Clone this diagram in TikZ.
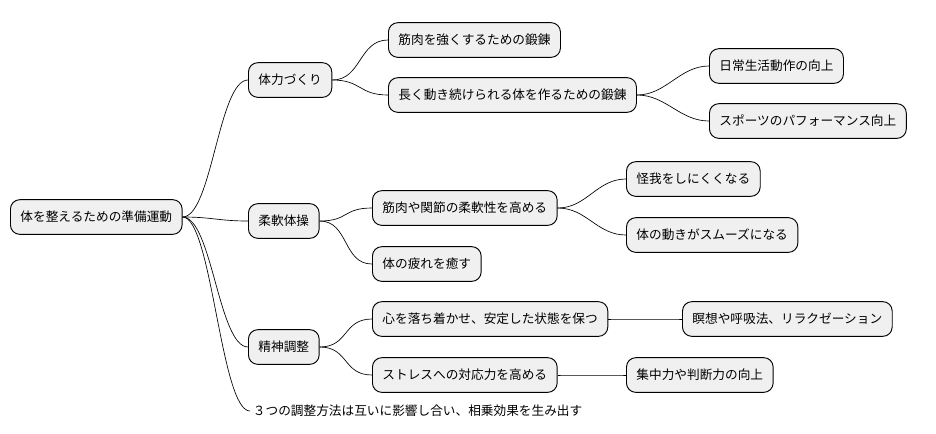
\documentclass[tikz,border=0pt]{standalone}
\usepackage{fontspec}
\setmainfont{Noto Sans CJK JP}
\usetikzlibrary{positioning}
\tikzset{
  topic/.style={rectangle, rounded corners=7pt, draw=black, line width=0.7pt, fill=gray!12,
    minimum height=26pt, inner xsep=7.5pt, font=\fontsize{9.5pt}{11pt}\selectfont, anchor=west},
  branch/.style={line width=0.5pt},
}
\newcommand{\link}[2]{\draw[branch] (#1.east) .. controls +(22pt,0) and +(-22pt,0) .. (#2.west);}
\begin{document}
\begin{tikzpicture}[x=0.75pt, y=-0.75pt]
\useasboundingbox (0,0) rectangle (936,433);
\node (root) [topic] at (10,217) {体を整えるための準備運動};
\node (fit) [topic] at (248,80) {体力づくり};
\node (fitA) [topic] at (388,40) {筋肉を強くするための鍛錬};
\node (fitB) [topic] at (388,95) {長く動き続けられる体を作るための鍛錬};
\node (fitB1) [topic] at (709,66) {日常生活動作の向上};
\node (fitB2) [topic] at (709,121) {スポーツのパフォーマンス向上};
\node (flex) [topic] at (248,221) {柔軟体操};
\node (flexA) [topic] at (372,208) {筋肉や関節の柔軟性を高める};
\node (flexA1) [topic] at (626,179) {怪我をしにくくなる};
\node (flexA2) [topic] at (626,235) {体の動きがスムーズになる};
\node (flexB) [topic] at (372,264) {体の疲れを癒す};
\node (mind) [topic] at (248,347) {精神調整};
\node (mindA) [topic] at (372,319) {心を落ち着かせ、安定した状態を保つ};
\node (mindA1) [topic] at (682,319) {瞑想や呼吸法、リラクゼーション};
\node (mindB) [topic] at (372,375) {ストレスへの対応力を高める};
\node (mindB1) [topic] at (626,375) {集中力や判断力の向上};
\node (note) [anchor=west, inner sep=2pt, font=\fontsize{9.5pt}{11pt}\selectfont] at (250,411) {３つの調整方法は互いに影響し合い、相乗効果を生み出す};

\link{root}{fit}
\link{fit}{fitA}
\link{fit}{fitB}
\link{fitB}{fitB1}
\link{fitB}{fitB2}
\link{root}{flex}
\link{flex}{flexA}
\link{flexA}{flexA1}
\link{flexA}{flexA2}
\link{flex}{flexB}
\link{root}{mind}
\link{mind}{mindA}
\link{mindA}{mindA1}
\link{mind}{mindB}
\link{mindB}{mindB1}
\draw[branch] (root.east) .. controls +(22pt,0) and +(-22pt,0) .. (note.west);
\end{tikzpicture}
\end{document}
